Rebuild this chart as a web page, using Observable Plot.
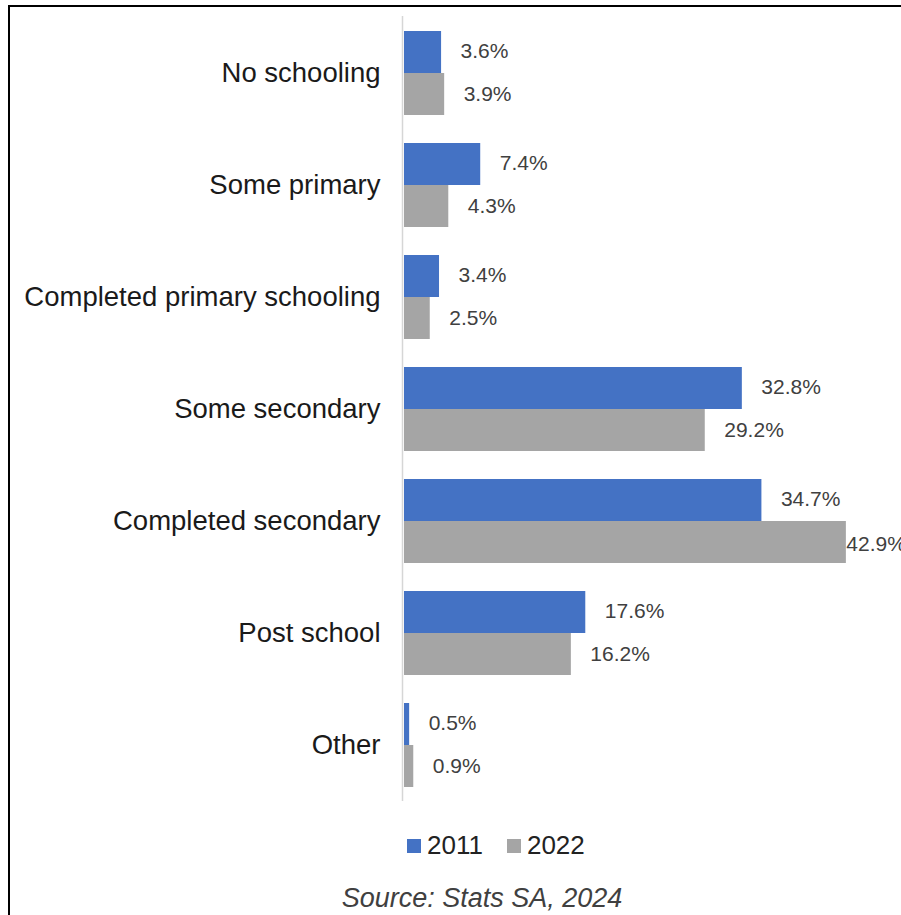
<!DOCTYPE html>
<html><head><meta charset="utf-8">
<script src="https://cdn.jsdelivr.net/npm/d3@7"></script>
<script src="https://cdn.jsdelivr.net/npm/@observablehq/plot@0.6"></script>
<style>
body{margin:0;background:#fff;}
#wrap{position:relative;width:901px;height:915px;overflow:hidden;font-family:"Liberation Sans",Arial,sans-serif;}
#frame{position:absolute;left:8px;top:5px;width:1000px;height:1000px;border-top:2px solid #000;border-left:2px solid #000;}
#chart{position:absolute;left:0;top:0;}
#legend{position:absolute;left:407px;top:829px;}
#caption{position:absolute;left:0;width:964px;text-align:center;top:883px;font-style:italic;font-size:27px;color:#404040;}
.lg-swatches{font-family:"Liberation Sans",Arial,sans-serif !important;font-size:26px !important;color:#222 !important;margin:0 !important;}
.lg-swatch{margin-right:24px !important;}
.lg-swatch > svg{margin-right:6px !important;}
</style>
</head><body>
<div id="wrap"><div id="frame"></div><div id="chart"></div><div id="legend"></div><div id="caption">Source: Stats SA, 2024</div></div>
<script>
const categories = ["No schooling","Some primary","Completed primary schooling","Some secondary","Completed secondary","Post school","Other"];
const years = ["2011","2022"];
const v2011 = [3.6, 7.4, 3.4, 32.8, 34.7, 17.6, 0.5];
const v2022 = [3.9, 4.3, 2.5, 29.2, 42.9, 16.2, 0.9];
const colors = ["#4472C4", "#A5A5A5"];

const d2011 = categories.map((c,i)=>({cat:c, year:years[0], value:v2011[i]}));
const d2022 = categories.map((c,i)=>({cat:c, year:years[1], value:v2022[i]}));
const xMax = 45;
const fmt = d => d.value.toFixed(1) + "%";
const font = '"Liberation Sans", Arial, sans-serif';

const plot = Plot.plot({
  width: 901, height: 815,
  marginLeft: 404, marginRight: 33.5, marginTop: 16, marginBottom: 14,
  style: {fontFamily: font, fontSize: "27.5px", color: "#1a1a1a", background: "transparent"},
  x: {domain: [0, xMax], axis: null},
  y: {domain: categories, paddingInner: 0.25, paddingOuter: 0.125, tickSize: 0, tickPadding: 24, label: null},
  color: {domain: years, range: colors},
  marks: [
    Plot.ruleX([0], {stroke: "#d6d6d6", strokeWidth: 1.5, dx: -2}),
    Plot.barX(d2011, {x: "value", y: "cat", fill: "year", insetBottom: 42}),
    Plot.barX(d2022, {x: "value", y: "cat", fill: "year", insetTop: 42}),
    Plot.text(d2011, {x: "value", y: "cat", text: fmt, dx: 19, dy: -22, textAnchor: "start", fontSize: 21, fill: "#404040"}),
    Plot.text(d2022.filter(d => d.value < 40), {x: "value", y: "cat", text: fmt, dx: 19, dy: 21, textAnchor: "start", fontSize: 21, fill: "#404040"}),
    Plot.text(d2022.filter(d => d.value >= 40), {x: "value", y: "cat", text: fmt, dx: 0, dy: 23, textAnchor: "start", fontSize: 21, fill: "#404040"})
  ]
});
document.getElementById("chart").appendChild(plot);
const leg = Plot.legend({color: {domain: years, range: colors}, swatchSize: 14, className: "lg"});
document.getElementById("legend").appendChild(leg);
</script>
</body></html>
